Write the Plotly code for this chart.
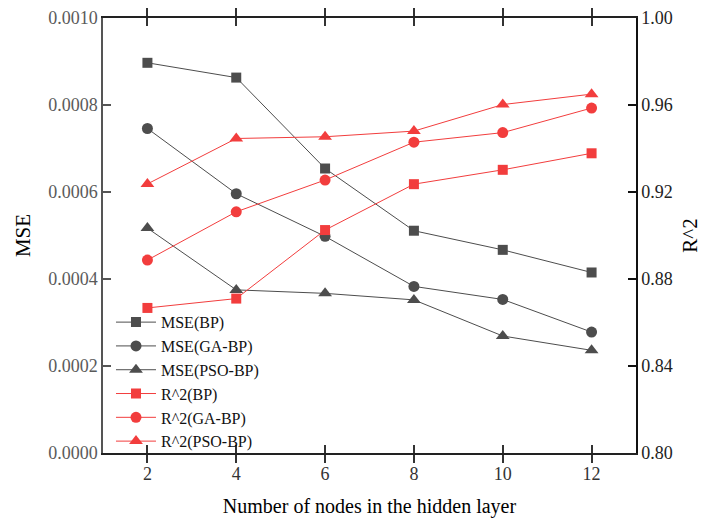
import plotly.graph_objects as go

nodes = [2, 4, 6, 8, 10, 12]
mse_bp = [0.000897, 0.000863, 0.000654, 0.000511, 0.000467, 0.000415]
mse_ga = [0.000746, 0.000596, 0.000498, 0.000383, 0.000353, 0.000278]
mse_pso = [0.000517, 0.000375, 0.000367, 0.000352, 0.000269, 0.000236]
r2_bp = [0.8667, 0.8710, 0.9025, 0.9236, 0.9302, 0.9378]
r2_ga = [0.8887, 0.9109, 0.9255, 0.9429, 0.9473, 0.9586]
r2_pso = [0.9237, 0.9446, 0.9454, 0.9480, 0.9602, 0.9650]

left_ticks = [0, 0.0002, 0.0004, 0.0006, 0.0008, 0.0010]
left_labels = ["0.0000", "0.0002", "0.0004", "0.0006", "0.0008", "0.0010"]
right_ticks = [0.80, 0.84, 0.88, 0.92, 0.96, 1.00]
right_labels = ["0.80", "0.84", "0.88", "0.92", "0.96", "1.00"]

GRAY = "#4d4d4d"
RED = "#f23d3d"
FONT = "'Liberation Serif', 'Times New Roman', Times, serif"

fig = go.Figure()

def add(name, y, color, symbol, size, axis):
    fig.add_trace(go.Scatter(
        x=nodes, y=y, name=name, mode="lines+markers", yaxis=axis,
        line=dict(color=color, width=1),
        marker=dict(symbol=symbol, size=size, color=color),
    ))

add("MSE(BP)", mse_bp, GRAY, "square", 10, "y")
add("MSE(GA-BP)", mse_ga, GRAY, "circle", 11, "y")
add("MSE(PSO-BP)", mse_pso, GRAY, "triangle-up", 12, "y")
add("R^2(BP)", r2_bp, RED, "square", 10, "y2")
add("R^2(GA-BP)", r2_ga, RED, "circle", 11, "y2")
add("R^2(PSO-BP)", r2_pso, RED, "triangle-up", 12, "y2")

fig.update_layout(
    width=704, height=518,
    margin=dict(l=103, r=68, t=18, b=65, autoexpand=False),
    paper_bgcolor="white", plot_bgcolor="white",
    font=dict(family=FONT, size=18, color="black"),
    showlegend=True,
    legend=dict(x=0.015, y=-0.012, xanchor="left", yanchor="bottom",
                bgcolor="rgba(0,0,0,0)", font=dict(size=16, family=FONT, color="#111"),
                tracegroupgap=0, itemwidth=40),
    xaxis=dict(
        range=[1, 13], tickvals=nodes, ticktext=[str(n) for n in nodes],
        ticks="inside", ticklen=8, tickwidth=1.5, tickcolor="#333",
        showline=True, linecolor="#222", linewidth=1.5, mirror="allticks",
        showgrid=False, zeroline=False, ticklabelstandoff=4,
        tickfont=dict(size=18, color="#333", family=FONT),
        title=dict(text="Number of nodes in the hidden layer", font=dict(size=20, family=FONT), standoff=22),
    ),
    yaxis=dict(
        range=[0, 0.001], tickvals=left_ticks, ticktext=left_labels,
        ticks="inside", ticklen=8, tickwidth=1.5, tickcolor="#555",
        showline=True, linecolor="#555", linewidth=1.5,
        showgrid=False, zeroline=False,
        tickfont=dict(size=18, color="#5a5a5a", family=FONT),
        title=dict(text="MSE", font=dict(size=21, family=FONT), standoff=12),
    ),
    yaxis2=dict(
        range=[0.80, 1.00], tickvals=right_ticks, ticktext=right_labels,
        overlaying="y", side="right",
        ticks="inside", ticklen=8, tickwidth=1.5, tickcolor="#111",
        showline=True, linecolor="#111", linewidth=1.5,
        showgrid=False, zeroline=False,
        tickfont=dict(size=18, color="#222", family=FONT),
        title=dict(text="R^2", font=dict(size=21, family=FONT), standoff=10),
    ),
)

fig.write_html("out.html")
